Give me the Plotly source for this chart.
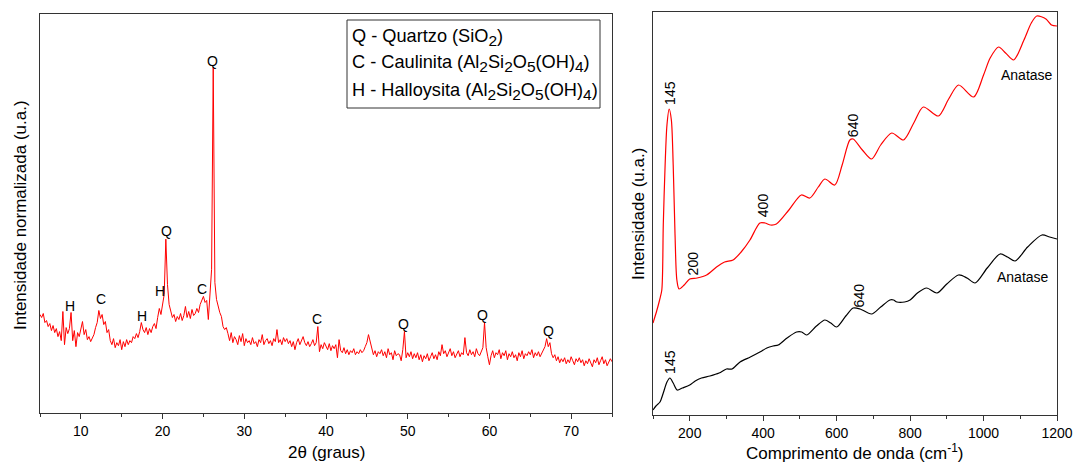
import plotly.graph_objects as go

# ---------------- DATA ----------------
# XRD (left panel): intensity sampled every 0.2 deg from 5.0 to 75.0 (2-theta)
xrd_start = 5.0
xrd_step = 0.2
xrd_intensity = [
    98, 95, 99, 90, 92, 86, 89, 82, 87, 80,        # 5.0 - 6.8
    84, 76, 81, 72, 101, 68, 85, 79, 84, 100,      # 7.0 - 8.8
    72, 82, 66, 80, 76, 84, 91, 78, 83, 73,        # 9.0 - 10.8
    76, 71, 74, 78, 85, 90, 102, 94, 98, 88,       # 11.0 - 12.8
    91, 80, 83, 72, 68, 74, 65, 70, 67, 73,        # 13.0 - 14.8
    63, 71, 66, 73, 68, 72, 70, 76, 74, 79,        # 15.0 - 16.8
    75, 81, 90, 83, 80, 85, 78, 84, 80, 86,        # 17.0 - 18.8
    89, 84, 95, 104, 98, 110, 118, 173, 128, 108,  # 19.0 - 20.8
    100, 95, 98, 91, 96, 93, 99, 92, 97, 106,      # 21.0 - 22.8
    95, 101, 94, 103, 97, 99, 104, 100, 108, 113,  # 23.0 - 24.8
    116, 110, 112, 93, 120, 143, 344, 130, 113, 106,  # 25.0 - 26.8
    100, 96, 86, 83, 85, 79, 72, 80, 70, 76,       # 27.0 - 28.8
    73, 68, 77, 71, 79, 67, 74, 70, 72, 68,        # 29.0 - 30.8
    75, 69, 71, 66, 73, 70, 78, 68, 72, 74,        # 31.0 - 32.8
    69, 72, 67, 74, 71, 83, 70, 73, 68, 75,        # 33.0 - 34.8
    71, 74, 69, 72, 66, 71, 63, 70, 74, 68,        # 35.0 - 36.8
    72, 76, 70, 67, 71, 66, 69, 73, 67, 70,        # 37.0 - 38.8
    86, 61, 68, 64, 70, 66, 63, 69, 62, 67,        # 39.0 - 40.8
    64, 68, 55, 73, 62, 60, 65, 59, 63, 58,        # 41.0 - 42.8
    62, 60, 64, 58, 61, 59, 63, 60, 62, 66,        # 43.0 - 44.8
    70, 78, 72, 64, 58, 62, 56, 61, 59, 63,        # 45.0 - 46.8
    57, 61, 55, 64, 58, 60, 53, 62, 57, 59,        # 47.0 - 48.8
    58, 52, 63, 81, 55, 60, 56, 61, 54, 59,        # 49.0 - 50.8
    55, 60, 53, 58, 51, 57, 54, 59, 52, 56,        # 51.0 - 52.8
    60, 54, 58, 53, 61, 57, 68, 59, 62, 56,        # 53.0 - 54.8
    60, 64, 57, 61, 55, 59, 62, 56, 60, 58,        # 55.0 - 56.8
    75, 60, 57, 63, 58, 61, 56, 64, 59, 57,        # 57.0 - 58.8
    62, 65, 90, 65, 56, 48, 57, 62, 55, 60,        # 59.0 - 60.8
    58, 63, 54, 60, 57, 62, 53, 59, 56, 61,        # 61.0 - 62.8
    55, 58, 52, 60, 56, 62, 54, 59, 57, 61,        # 63.0 - 64.8
    58, 63, 55, 60, 57, 61, 56, 59, 62, 66,        # 65.0 - 66.8
    74, 66, 70, 59, 55, 58, 52, 56, 50, 54,        # 67.0 - 68.8
    51, 55, 49, 53, 50, 56, 52, 48, 54, 51,        # 69.0 - 70.8
    55, 50, 53, 47, 52, 49, 54, 50, 46, 53,        # 71.0 - 72.8
    50, 55, 48, 52, 56, 49, 53, 47, 51, 54,        # 73.0 - 74.8
    51,                                            # 75.0
]
two_theta = [round(xrd_start + xrd_step * i, 1) for i in range(len(xrd_intensity))]

xrd_labels = ["H", "C", "H", "H", "Q", "C", "Q", "C", "Q", "Q", "Q"]
xrd_label_theta = [8.67, 12.46, 17.43, 19.63, 20.45, 24.85, 26.15, 38.95, 49.5, 59.16, 67.22]
xrd_label_int = [106, 113, 97, 121, 181, 123, 350, 94, 89, 98, 82]


def sub(s):
    return '<sub><span style="font-size:15.5px">' + s + "</span></sub>"


legend_lines = [
    "Q - Quartzo (SiO" + sub("2") + ")",
    "C - Caulinita (Al" + sub("2") + "Si" + sub("2") + "O" + sub("5") + "(OH)" + sub("4") + ")",
    "H - Halloysita (Al" + sub("2") + "Si" + sub("2") + "O" + sub("5") + "(OH)" + sub("4") + ")",
]

# Raman (right panel)
raman_red_cm = [100, 110, 118, 124, 128, 133, 138, 144, 150, 155, 160, 165, 171, 185, 200,
                220, 246, 273, 295, 318, 340, 364, 391, 405, 420, 436, 470, 504, 527, 550,
                568, 595, 615, 636, 645, 670, 695, 720, 750, 782, 810, 836, 877, 905, 932,
                973, 1000, 1018, 1041, 1060, 1082, 1110, 1130, 1145, 1170, 1185, 1200]
raman_red_int = [92, 104, 115, 125, 190, 250, 290, 306, 295, 250, 180, 135, 126, 130, 136,
                 137, 140, 148, 153, 155, 163, 175, 192, 192, 190, 191, 205, 220, 217, 228,
                 236, 230, 250, 275, 276, 265, 256, 270, 282, 275, 292, 308, 299, 316, 330,
                 318, 340, 357, 368, 362, 355, 375, 392, 399, 396, 390, 389]

raman_black_cm = [100, 108, 119, 128, 138, 146, 155, 166, 180, 200, 215, 232, 255, 280, 300,
                  315, 337, 365, 391, 410, 427, 441, 465, 491, 505, 518, 545, 568, 584, 600,
                  625, 645, 664, 695, 720, 745, 755, 764, 785, 800, 820, 845, 873, 900, 932,
                  955, 977, 1010, 1045, 1065, 1086, 1120, 1159, 1180, 1200]
raman_black_int = [5, 9, 13, 22, 33, 37, 32, 25, 27, 30, 34, 37, 39, 42, 46,
                   46, 53, 58, 63, 67, 69, 70, 77, 83, 83, 80, 89, 95, 92, 88,
                   99, 107, 106, 101, 108, 115, 115, 113, 113, 115, 122, 127, 122, 131, 140,
                   137, 132, 147, 161, 158, 154, 168, 180, 178, 176]

raman_labels = ["145", "200", "400", "640", "145", "640"]
raman_label_cm = [146, 210, 400, 645, 146, 662]
raman_label_int = [322, 152, 210, 290, 53, 120]
anatase_cm = [1117, 1108]
anatase_int = [340, 138]

# ---------------- LAYOUT ----------------
W, H = 1075, 462
FONT = "Liberation Sans, Arial, sans-serif"


def fx(p):
    return p / W


def fy(p):
    return 1 - p / H


fig = go.Figure()

fig.add_trace(go.Scatter(x=two_theta, y=xrd_intensity, mode="lines",
                         line=dict(color="#ff0000", width=1), xaxis="x", yaxis="y",
                         showlegend=False, hoverinfo="skip"))
fig.add_trace(go.Scatter(x=raman_red_cm, y=raman_red_int, mode="lines",
                         line=dict(color="#ff0000", width=1.2, shape="spline", smoothing=0.8),
                         xaxis="x2", yaxis="y2", showlegend=False, hoverinfo="skip"))
fig.add_trace(go.Scatter(x=raman_black_cm, y=raman_black_int, mode="lines",
                         line=dict(color="#000000", width=1.2, shape="spline", smoothing=0.8),
                         xaxis="x2", yaxis="y2", showlegend=False, hoverinfo="skip"))

axis_common = dict(showline=True, linecolor="#333333", linewidth=1, mirror=True,
                   showgrid=False, zeroline=False, automargin=False,
                   tickfont=dict(family=FONT, size=14, color="#000000"))

fig.update_layout(
    width=W, height=H, autosize=False,
    margin=dict(l=0, r=0, t=0, b=0, pad=0, autoexpand=False),
    paper_bgcolor="white", plot_bgcolor="white",
    font=dict(family=FONT, color="#000000"),
    xaxis=dict(domain=[fx(40), fx(612)], range=[5, 75], tick0=0, dtick=10,
               ticks="outside", ticklen=5, tickcolor="#333333",
               minor=dict(dtick=5, tick0=0, ticks="outside", ticklen=3, tickcolor="#333333"),
               anchor="y", **axis_common),
    yaxis=dict(domain=[fy(413), fy(14)], range=[0, 397], showticklabels=False,
               ticks="", anchor="x", **axis_common),
    xaxis2=dict(domain=[fx(653), fx(1057)], range=[100, 1200], tick0=0, dtick=200,
                ticks="outside", ticklen=5, tickcolor="#333333",
                minor=dict(dtick=100, tick0=0, ticks="outside", ticklen=3, tickcolor="#333333"),
                anchor="y2", **axis_common),
    yaxis2=dict(domain=[fy(415), fy(12)], range=[0, 403], showticklabels=False,
                ticks="", anchor="x2", **axis_common),
)

annotations = []
# XRD phase letters
for t, xv, yv in zip(xrd_labels, xrd_label_theta, xrd_label_int):
    annotations.append(dict(text=t, x=xv, y=yv, xref="x", yref="y", showarrow=False,
                            xanchor="center", yanchor="middle",
                            font=dict(family=FONT, size=14, color="#000000")))
# Raman rotated labels
for t, xv, yv in zip(raman_labels, raman_label_cm, raman_label_int):
    annotations.append(dict(text=t, x=xv, y=yv, xref="x2", yref="y2", showarrow=False,
                            textangle=-90, xanchor="center", yanchor="middle",
                            font=dict(family=FONT, size=14, color="#000000")))
for xv, yv in zip(anatase_cm, anatase_int):
    annotations.append(dict(text="Anatase", x=xv, y=yv, xref="x2", yref="y2", showarrow=False,
                            xanchor="center", yanchor="middle",
                            font=dict(family=FONT, size=14, color="#000000")))
# legend box text
for i, line in enumerate(legend_lines):
    annotations.append(dict(text=line, x=fx(350), y=fy(37 + 27 * i), xref="paper", yref="paper",
                            showarrow=False, xanchor="left", yanchor="middle",
                            font=dict(family=FONT, size=18.2, color="#000000")))
# axis titles
annotations.append(dict(text="2θ (graus)", x=fx(326), y=fy(452), xref="paper", yref="paper",
                        showarrow=False, xanchor="center", yanchor="middle",
                        font=dict(family=FONT, size=17, color="#000000")))
annotations.append(dict(text="Comprimento de onda (cm<sup>-1</sup>)", x=fx(855), y=fy(452),
                        xref="paper", yref="paper", showarrow=False, xanchor="center",
                        yanchor="middle", font=dict(family=FONT, size=17, color="#000000")))
annotations.append(dict(text="Intensidade normalizada (u.a.)", x=fx(20), y=fy(215),
                        xref="paper", yref="paper", showarrow=False, textangle=-90,
                        xanchor="center", yanchor="middle",
                        font=dict(family=FONT, size=17, color="#000000")))
annotations.append(dict(text="Intensidade (u.a.)", x=fx(638), y=fy(214),
                        xref="paper", yref="paper", showarrow=False, textangle=-90,
                        xanchor="center", yanchor="middle",
                        font=dict(family=FONT, size=17, color="#000000")))

fig.update_layout(annotations=annotations)

fig.add_shape(type="rect", xref="paper", yref="paper",
              x0=fx(347), x1=fx(600), y0=fy(108), y1=fy(20),
              line=dict(color="#333333", width=1), fillcolor="rgba(0,0,0,0)")

fig.write_html("out.html")
